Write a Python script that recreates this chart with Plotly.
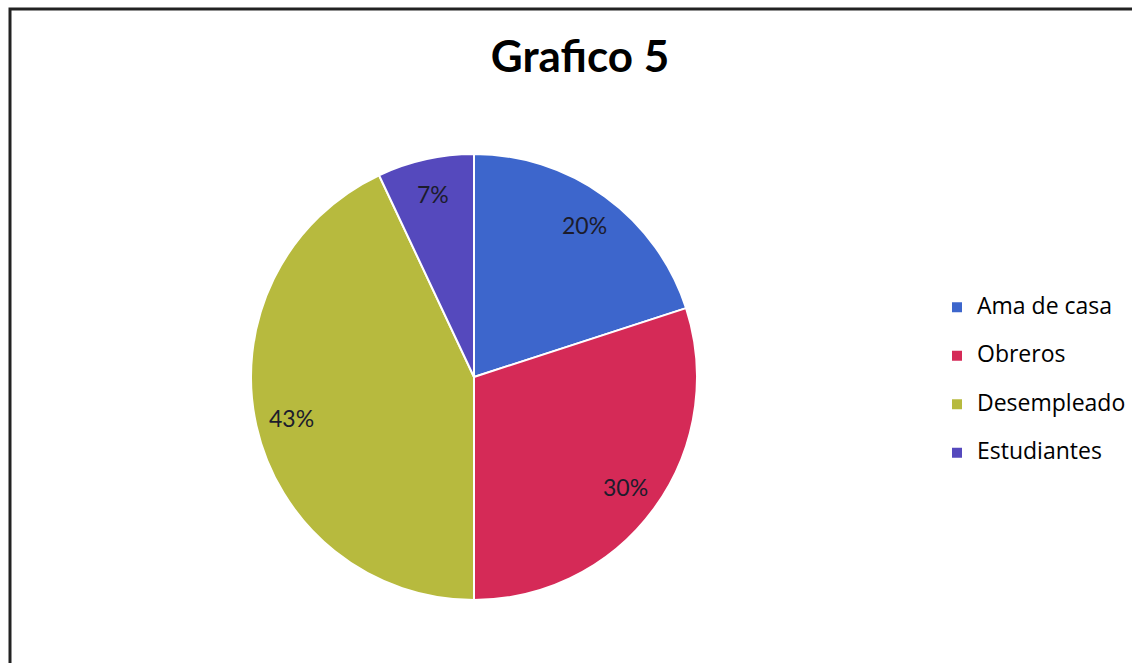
import math
import plotly.graph_objects as go

# Distribución por ocupación
categorias = ["Ama de casa", "Obreros", "Desempleado", "Estudiantes"]
porcentajes = [20, 30, 43, 7]
colores = ["#3d66cc", "#d52a57", "#b7ba3e", "#5549bd"]

W, H = 1132, 663
cx, cy, r = 474, 377, 223

# Legend rows are spaced by the legend font size; the visible label text is smaller
etiquetas_leyenda = [
    f'<span style="font-size:23px;baseline-shift:7px">{c}</span>' for c in categorias
]

fig = go.Figure(
    go.Pie(
        labels=etiquetas_leyenda,
        values=porcentajes,
        sort=False,
        direction="clockwise",
        rotation=0,
        marker=dict(colors=colores, line=dict(color="white", width=2)),
        textinfo="none",
        domain=dict(x=[(cx - r) / W, (cx + r) / W], y=[(H - cy - r) / H, (H - cy + r) / H]),
        hovertext=categorias,
        hoverinfo="text+percent",
    )
)

# Percent labels placed near the outer part of each slice
total = sum(porcentajes)
anotaciones = []
acum = 0
for v in porcentajes:
    medio = (acum + v / 2) / total * 2 * math.pi
    acum += v
    rr = 0.84 * r
    px = cx + rr * math.sin(medio)
    py = cy - rr * math.cos(medio)
    anotaciones.append(
        dict(
            x=px / W,
            y=1 - py / H,
            xref="paper",
            yref="paper",
            xanchor="center",
            yanchor="middle",
            text=f"{round(v / total * 100)}%",
            showarrow=False,
            font=dict(family="Lato", size=23, color="#1c1c2c"),
        )
    )

fig.update_layout(
    width=W,
    height=H,
    margin=dict(l=0, r=0, t=0, b=0),
    paper_bgcolor="white",
    plot_bgcolor="white",
    title=dict(
        text="<b>Grafico 5</b>",
        x=580 / W,
        xanchor="center",
        y=1 - 57 / H,
        yanchor="middle",
        font=dict(family="Lato", size=44, color="black"),
    ),
    legend=dict(
        x=937 / W,
        y=1 - 278 / H,
        xanchor="left",
        yanchor="top",
        font=dict(family="Open Sans", size=35, color="black"),
        tracegroupgap=0,
        bgcolor="rgba(0,0,0,0)",
    ),
    annotations=anotaciones,
    shapes=[
        dict(
            type="rect",
            xref="paper",
            yref="paper",
            x0=10 / W,
            x1=1.02,
            y0=-0.02,
            y1=1 - 9 / H,
            line=dict(color="#222222", width=3),
            fillcolor="rgba(0,0,0,0)",
        )
    ],
)

fig.write_html("out.html")
